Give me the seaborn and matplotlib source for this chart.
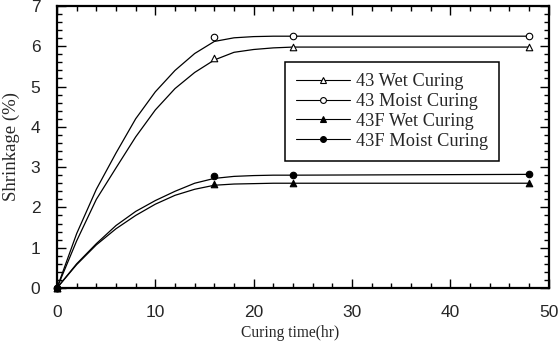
import numpy as np
import pandas as pd
import matplotlib
matplotlib.use("Agg")
import matplotlib.pyplot as plt
from matplotlib.lines import Line2D
from matplotlib.ticker import MultipleLocator
import seaborn as sns

# Measured shrinkage at the sampling times
sample_time = [0, 16, 24, 48]
wet_43 = [0.0, 5.72, 5.98, 5.98]
moist_43 = [0.0, 6.24, 6.25, 6.25]
wet_43f = [0.0, 2.57, 2.60, 2.60]
moist_43f = [0.0, 2.79, 2.80, 2.82]

# Fitted trend curves
curve_time = [0, 2, 4, 6, 8, 10, 12, 14, 16, 18, 20, 22, 24, 48]
wet_43_fit = [0.0, 1.17, 2.20, 2.98, 3.75, 4.42, 4.95, 5.35, 5.66, 5.85, 5.92, 5.96, 5.98, 5.98]
moist_43_fit = [0.0, 1.35, 2.45, 3.35, 4.20, 4.87, 5.40, 5.82, 6.12, 6.21, 6.24, 6.25, 6.25, 6.25]
wet_43f_fit = [0.0, 0.58, 1.07, 1.47, 1.80, 2.08, 2.30, 2.45, 2.55, 2.58, 2.59, 2.60, 2.60, 2.60]
moist_43f_fit = [0.0, 0.60, 1.10, 1.55, 1.90, 2.17, 2.40, 2.60, 2.72, 2.77, 2.79, 2.80, 2.80, 2.82]

labels = ["43 Wet Curing", "43 Moist Curing", "43F Wet Curing", "43F Moist Curing"]
markers = ["^", "o", "^", "o"]
faces = ["white", "white", "black", "black"]

x_ticks = [0, 10, 20, 30, 40, 50]
y_ticks = [0, 1, 2, 3, 4, 5, 6, 7]

fits = [wet_43_fit, moist_43_fit, wet_43f_fit, moist_43f_fit]
points = [wet_43, moist_43, wet_43f, moist_43f]

curves = pd.concat(
    [pd.DataFrame({"time": curve_time, "shrinkage": f, "series": lab}) for f, lab in zip(fits, labels)],
    ignore_index=True,
)

sns.set_style("ticks")
plt.rcParams["font.family"] = ["Liberation Sans", "DejaVu Sans"]

fig = plt.figure(figsize=(5.6, 3.42), dpi=100)
ax = fig.add_axes([0.1018, 0.158, 0.878, 0.8245])

sns.lineplot(data=curves, x="time", y="shrinkage", hue="series", hue_order=labels,
             palette=["black"] * 4, linewidth=0.9, legend=False, ax=ax, sort=True)

for vals, lab, m, fc in zip(points, labels, markers, faces):
    df = pd.DataFrame({"time": sample_time, "shrinkage": vals})
    sns.scatterplot(data=df, x="time", y="shrinkage", marker=m, s=22,
                    facecolor=fc, edgecolor="black", linewidth=0.8,
                    ax=ax, zorder=4, clip_on=False)

ax.set_xlim(0, 50)
ax.set_ylim(0, 7)
ax.set_xticks(x_ticks)
ax.set_yticks(y_ticks)
ax.xaxis.set_minor_locator(MultipleLocator(2))
ax.yaxis.set_minor_locator(MultipleLocator(0.2))
ax.tick_params(which="both", direction="in", top=True, right=True, width=1.0, color="black")
ax.tick_params(which="major", length=6.8, labelsize=12.5, pad=12)
ax.tick_params(which="minor", length=3.6)
for sp in ax.spines.values():
    sp.set_linewidth(1.6)
    sp.set_color("black")

serif = ["Liberation Serif", "DejaVu Serif"]
ax.set_xlabel("Curing time(hr)", family=serif, fontsize=11.2)
ax.set_ylabel("Shrinkage (%)", family=serif, fontsize=13.5)
ax.xaxis.set_label_coords(0.4736, -0.132)
ax.yaxis.set_label_coords(-0.076, 0.5)

handles = [Line2D([], [], color="black", linewidth=0.8, marker=m, markersize=4.2,
                  markerfacecolor=fc, markeredgecolor="black", markeredgewidth=0.8)
           for m, fc in zip(markers, faces)]
leg = ax.legend(handles, labels, loc="upper left", bbox_to_anchor=(0.4634, 0.8014),
                borderaxespad=0, frameon=True, fancybox=False, edgecolor="black",
                framealpha=1, prop={"family": serif, "size": 13.2}, handlelength=2.95,
                handletextpad=0.35, labelspacing=0.16, borderpad=0.6, numpoints=1)
leg.get_frame().set_linewidth(1.1)

fig.savefig("out.png", dpi=100)
